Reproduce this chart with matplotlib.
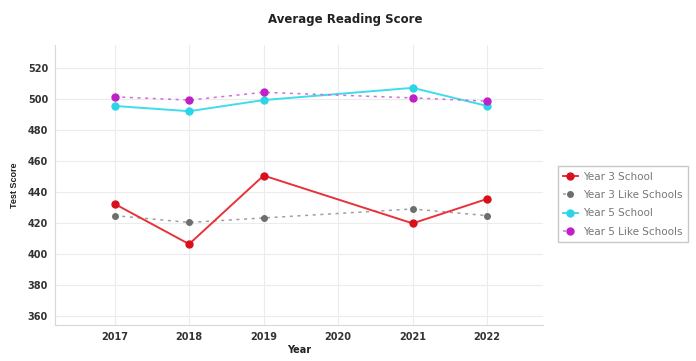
import numpy as np
import matplotlib
matplotlib.use("Agg")
import matplotlib.pyplot as plt

plt.rcParams['font.family'] = ['DejaVu Sans']

# reading scores by year (no 2020 results)
years = [2017, 2018, 2019, 2021, 2022]
tick_years = [2017, 2018, 2019, 2020, 2021, 2022]
y3_school = [432.3, 406.3, 450.6, 419.7, 435.5]
y3_like = [424.7, 420.3, 423.2, 429.0, 424.7]
y5_school = [495.6, 492.2, 499.4, 507.3, 495.6]
y5_like = [501.5, 499.4, 504.4, 500.8, 498.7]
y_ticks = [360, 380, 400, 420, 440, 460, 480, 500, 520]

fig = plt.figure(figsize=(6.96, 3.61), dpi=100)
ax = fig.add_axes([55 / 696, 1 - 325 / 361, (543 - 55) / 696, (325 - 45) / 361])

ax.plot(years, y3_school, color='#e8323a', lw=1.4, marker='o', ms=5,
        mfc='#d8101c', mec='#d8101c', label='Year 3 School', zorder=4)
ax.plot(years, y3_like, color='#a0a0a0', lw=1.1, ls=(0, (2, 3)), marker='o', ms=4,
        mfc='#6e6e6e', mec='#6e6e6e', label='Year 3 Like Schools', zorder=3)
ax.plot(years, y5_school, color='#3fdcec', lw=1.4, marker='o', ms=5,
        mfc='#2cd4e8', mec='#2cd4e8', label='Year 5 School', zorder=3)
ax.plot(years, y5_like, color='#d070d8', lw=1.1, ls=(0, (2, 3)), marker='o', ms=5,
        mfc='#c020c8', mec='#c020c8', label='Year 5 Like Schools', zorder=4)

ax.set_xlim(2016.2, 2022.75)
ax.set_ylim(354, 535)
ax.set_xticks(tick_years)
ax.set_yticks(y_ticks)
ax.tick_params(length=0, labelsize=7, colors='#333333', pad=5)
for lbl in ax.get_xticklabels() + ax.get_yticklabels():
    lbl.set_fontweight('bold')

ax.grid(True, color='#ececec', lw=0.8)
ax.set_axisbelow(True)
for side in ['top', 'right']:
    ax.spines[side].set_visible(False)
for side in ['left', 'bottom']:
    ax.spines[side].set_color('#d8d8d8')
    ax.spines[side].set_linewidth(0.8)

ax.set_xlabel('Year', fontsize=7, fontweight='bold', color='#222222', labelpad=2)
ax.set_ylabel('Test Score', fontsize=6.5, fontweight='bold', color='#222222',
              labelpad=6, family='Liberation Sans')
fig.suptitle('Average Reading Score', x=0.496, y=0.965, fontsize=8.5, fontweight='bold',
             color='#222222')

leg = ax.legend(loc='upper left', bbox_to_anchor=(1.02, 0.585), fontsize=7.5,
                frameon=True, fancybox=False, edgecolor='#bbbbbb', handlelength=1.4,
                handletextpad=0.5, borderpad=0.5, labelspacing=0.8)
for t in leg.get_texts():
    t.set_color('#777777')

fig.savefig('out.png', dpi=100)
